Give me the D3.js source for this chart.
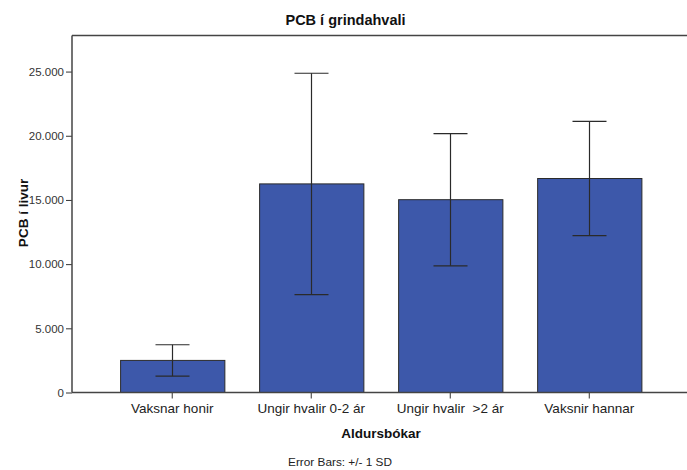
<!DOCTYPE html>
<html>
<head>
<meta charset="utf-8">
<script src="https://cdn.jsdelivr.net/npm/d3@7/dist/d3.min.js"></script>
<style>
  html, body { margin: 0; padding: 0; background: #fff; }
  svg { display: block; font-family: "Liberation Sans", Arial, sans-serif; }
</style>
</head>
<body>
<svg id="chart" width="687" height="470"></svg>
<script>
// Mean PCB in liver per age/sex group, with ±1 SD error bars
const categories = ["Vaksnar honir", "Ungir hvalir 0-2 ár", "Ungir hvalir  >2 ár", "Vaksnir hannar"];
const means = [2500, 16250, 15020, 16670];
const sds = [1220, 8620, 5150, 4450];
const yTicks = [0, 5000, 10000, 15000, 20000, 25000];
const yTickLabels = ["0", "5.000", "10.000", "15.000", "20.000", "25.000"];

const svg = d3.select("#chart");
const W = 687, H = 470;
const plotL = 72, plotT = 35.5, plotB = 392.5, plotR = 689.5;

const x = d3.scaleBand()
  .domain(categories)
  .range([plotL, plotR])
  .paddingInner(0.25)
  .paddingOuter(0.346);

const y = d3.scaleLinear()
  .domain([0, 27810])
  .range([plotB, plotT]);

// Title
svg.append("text")
  .attr("x", 345.5).attr("y", 25)
  .attr("text-anchor", "middle")
  .attr("font-size", 14.5).attr("font-weight", "bold")
  .attr("fill", "#111")
  .text("PCB í grindahvali");

// Bars
const data = categories.map((c, i) => ({ c, m: means[i], sd: sds[i] }));
svg.append("g").selectAll("rect")
  .data(data).join("rect")
  .attr("x", d => x(d.c) + 0.5)
  .attr("y", d => y(d.m))
  .attr("width", x.bandwidth())
  .attr("height", d => y(0) - y(d.m))
  .attr("fill", "#3d58aa")
  .attr("stroke", "#2b2b2b")
  .attr("stroke-width", 1);

// Error bars
const capHalf = 17;
const eb = svg.append("g").attr("stroke", "#2a2a2a").attr("stroke-width", 1.2).attr("fill", "none");
data.forEach(d => {
  const cx = Math.round(x(d.c) + x.bandwidth() / 2) + 0.5;
  const hi = y(d.m + d.sd), lo = y(d.m - d.sd);
  eb.append("line").attr("x1", cx).attr("x2", cx).attr("y1", hi).attr("y2", lo);
  eb.append("line").attr("x1", cx - capHalf).attr("x2", cx + capHalf).attr("y1", hi).attr("y2", hi);
  eb.append("line").attr("x1", cx - capHalf).attr("x2", cx + capHalf).attr("y1", lo).attr("y2", lo);
});

// Y axis
const yAxis = d3.axisLeft(y)
  .tickValues(yTicks)
  .tickSize(6)
  .tickPadding(2)
  .tickFormat((d, i) => yTickLabels[i]);
const gy = svg.append("g").attr("transform", `translate(${plotL},0)`).call(yAxis);
gy.select(".domain").remove();
gy.selectAll(".tick line").attr("stroke", "#333");
gy.selectAll(".tick text").attr("font-size", 11.5).attr("fill", "#333")
  .attr("font-family", "'Liberation Sans', Arial, sans-serif");

// X axis
const xAxis = d3.axisBottom(x).tickSize(6).tickPadding(5);
const gx = svg.append("g").attr("transform", `translate(0,${plotB})`).call(xAxis);
gx.select(".domain").remove();
gx.selectAll(".tick line").attr("stroke", "#333");
gx.selectAll(".tick text").attr("font-size", 13.5).attr("fill", "#222")
  .attr("font-family", "'Liberation Sans', Arial, sans-serif")
  .style("white-space", "pre");

// Frame lines: top, left, bottom
const frame = svg.append("g").attr("stroke", "#444").attr("stroke-width", 1.5);
frame.append("line").attr("x1", plotL).attr("x2", W).attr("y1", plotT).attr("y2", plotT);
frame.append("line").attr("x1", plotL).attr("x2", plotL).attr("y1", plotT).attr("y2", plotB);
frame.append("line").attr("x1", plotL).attr("x2", W).attr("y1", plotB).attr("y2", plotB);

// Axis titles
svg.append("text")
  .attr("x", 381).attr("y", 438)
  .attr("text-anchor", "middle")
  .attr("font-size", 13.5).attr("font-weight", "bold").attr("fill", "#111")
  .text("Aldursbókar");

svg.append("text")
  .attr("transform", "translate(27.5,213) rotate(-90)")
  .attr("text-anchor", "middle")
  .attr("font-size", 13.5).attr("font-weight", "bold").attr("fill", "#111")
  .text("PCB í livur");

// Footnote
svg.append("text")
  .attr("x", 340).attr("y", 466)
  .attr("text-anchor", "middle")
  .attr("font-size", 11.8).attr("fill", "#222")
  .text("Error Bars: +/- 1 SD");
</script>
</body>
</html>
